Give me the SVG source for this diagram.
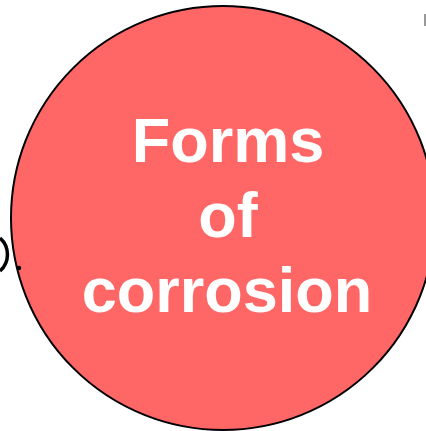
<svg xmlns="http://www.w3.org/2000/svg" width="426" height="431" viewBox="0 0 426 431">
<style>
.node{fill:#FF6666;stroke:#000;stroke-width:2}
.label{fill:#fff;font-family:"Liberation Sans",Arial,sans-serif;font-weight:bold;font-size:63px;text-anchor:middle}
</style>
<rect width="426" height="431" fill="#fff"/>
<g id="left-partial">
<path d="M0,238 A22,22 0 0 1 0,271" fill="none" stroke="#000" stroke-width="3.5"/>
</g>
<g id="right-partial">
<path d="M425,14 L425,26" fill="none" stroke="#999" stroke-width="2"/>
</g>
<g id="forms-of-corrosion">
<circle class="node" cx="223" cy="218" r="212"/>
<text class="label" x="228" y="162">Forms</text>
<text class="label" x="228" y="237">of</text>
<text class="label" x="227" y="312">corrosion</text>
</g>
<g id="connectors">
<circle cx="19" cy="268" r="2.2" fill="#000"/>
</g>
</svg>
